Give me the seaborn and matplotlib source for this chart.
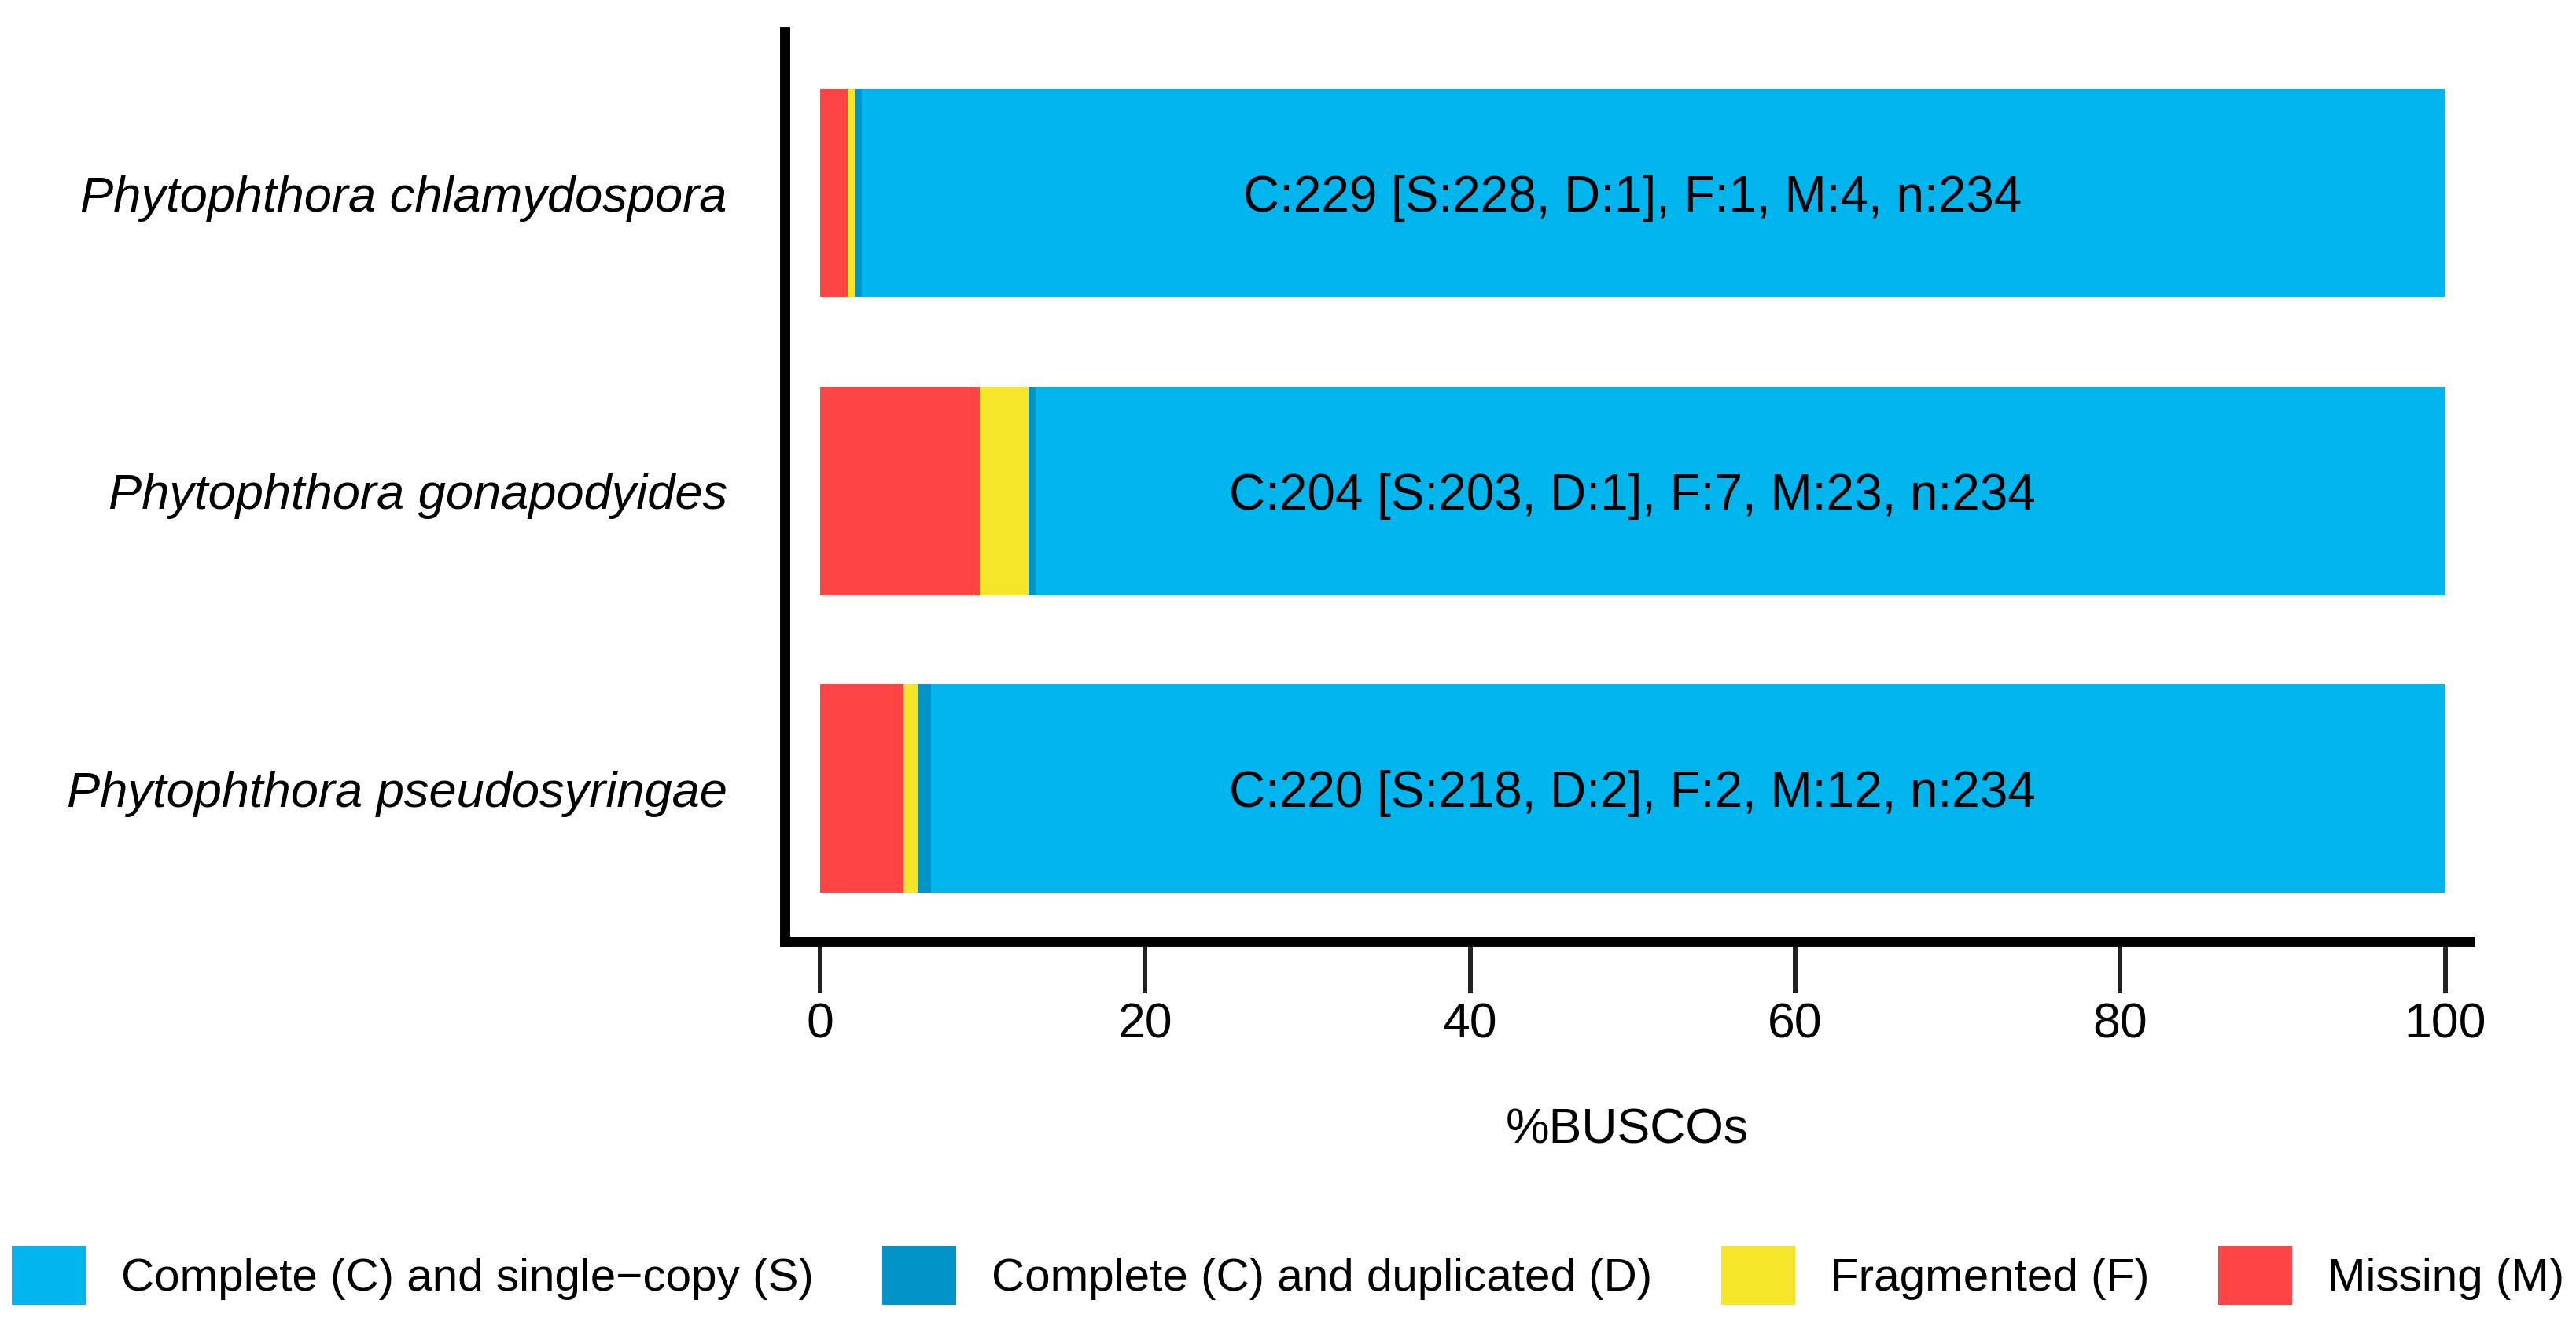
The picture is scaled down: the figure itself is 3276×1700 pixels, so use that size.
import numpy as np
import pandas as pd
import matplotlib
matplotlib.use("Agg")
import matplotlib.pyplot as plt
import seaborn as sns
from matplotlib.patches import Patch

# BUSCO counts per species
species = ["Phytophthora chlamydospora", "Phytophthora gonapodyides", "Phytophthora pseudosyringae"]
single = [228, 203, 218]
duplicated = [1, 1, 2]
fragmented = [1, 7, 2]
missing = [4, 23, 12]
total = [234, 234, 234]

labels = ["Complete (C) and single\u2212copy (S)", "Complete (C) and duplicated (D)",
          "Fragmented (F)", "Missing (M)"]
colors = ["#00B5EC", "#0094C8", "#F5E629", "#FF4444"]

sns.set_theme(style="white")
plt.rcParams["font.family"] = ["Liberation Sans", "DejaVu Sans"]
plt.rcParams["text.color"] = "black"
plt.rcParams["axes.labelcolor"] = "black"

df = pd.DataFrame({"species": species, "S": single, "D": duplicated,
                   "F": fragmented, "M": missing, "n": total})
for c in ["S", "D", "F", "M"]:
    df[c + "_pct"] = df[c] / df["n"] * 100

# stacked: M on the left, then F, D, S
df["cum_M"] = df["M_pct"]
df["cum_F"] = df["cum_M"] + df["F_pct"]
df["cum_D"] = df["cum_F"] + df["D_pct"]
df["cum_S"] = df["cum_D"] + df["S_pct"]

fig = plt.figure(figsize=(10.92, 5.6667), dpi=300)
ax = fig.add_axes([0.3045, 0.2956, 0.9587 - 0.3045, 0.9762 - 0.2956])

for col, colr in zip(["cum_S", "cum_D", "cum_F", "cum_M"], colors):
    sns.barplot(data=df, x=col, y="species", orient="h", color=colr,
                width=0.7, saturation=1, ax=ax, linewidth=0)

for i, row in df.iterrows():
    C = row["S"] + row["D"]
    txt = f"C:{C} [S:{row['S']}, D:{row['D']}], F:{row['F']}, M:{row['M']}, n:{row['n']}"
    ax.text(50, i, txt, ha="center", va="center_baseline", fontsize=15.3, color="black")

ax.set_xlim(-2.2, 101.5)
ax.set_ylim(2.515, -0.542)
ax.set_xticks([0, 20, 40, 60, 80, 100])
ax.set_xticklabels(["0", "20", "40", "60", "80", "100"])
ax.set_xlabel("%BUSCOs", fontsize=15, labelpad=18)
ax.set_ylabel("")

for s in ["top", "right"]:
    ax.spines[s].set_visible(False)
for s in ["left", "bottom"]:
    ax.spines[s].set_linewidth(3.1)
    ax.spines[s].set_color("black")

ax.tick_params(axis="x", length=15.8, width=1.44, color="#222222", pad=2.4,
               labelsize=15, labelcolor="black", bottom=True)
ax.tick_params(axis="y", length=0, pad=17.5, labelsize=15.2, labelcolor="black")
for t in ax.get_yticklabels():
    t.set_fontstyle("italic")

handles = [Patch(facecolor=c, edgecolor="none") for c in colors]
fig.legend(handles, labels, loc="center", bbox_to_anchor=(0.5, 0.046), ncol=4,
           frameon=False, fontsize=14, handlelength=1.61, handleheight=1.61,
           handletextpad=0.77, columnspacing=1.5, labelcolor="black")

fig.savefig("out.png", dpi=300, facecolor="white")
